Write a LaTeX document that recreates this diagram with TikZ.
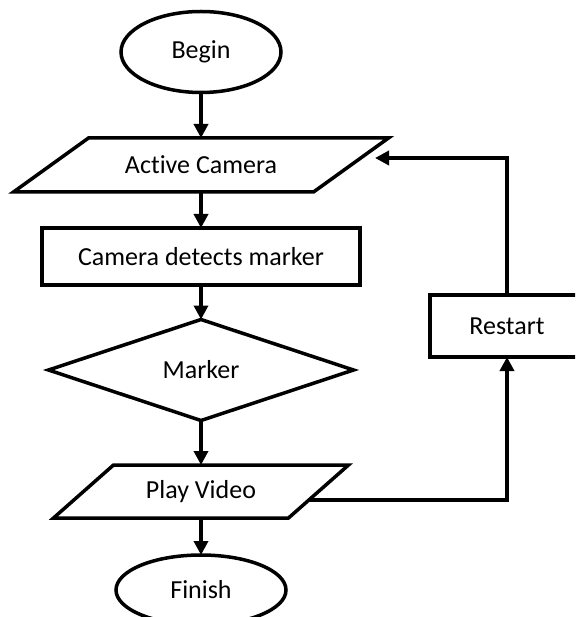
\documentclass[tikz,border=0pt]{standalone}
\usepackage{fontspec}
\setmainfont{Carlito}[Ligatures=NoCommon]
\usetikzlibrary{shapes.geometric,arrows.meta}
\tikzset{
  every node/.style={font=\fontsize{26}{30}\selectfont, line width=3.5pt, outer sep=0pt, inner sep=0pt},
  term/.style={ellipse, draw},
  iotext/.style={rectangle},
  iobox/.style={line width=3.5pt, line join=miter},
  procbox/.style={rectangle, draw},
  decbox/.style={diamond, draw},
  flow/.style={line width=3.5pt, -{Triangle[length=14pt,width=14pt]}}
}
\begin{document}
\begin{tikzpicture}[x=1pt,y=-1pt]
\clip (0,0) rectangle (575,617);
\node[term, minimum width=160pt, minimum height=81pt] (begin) at (201,52) {Begin};
\node[iotext, minimum width=300pt, minimum height=54pt] (cam) at (201,165) {Active Camera};
\draw[iobox] ([xshift=37.5pt]cam.north west) -- ([xshift=37.5pt]cam.north east) -- ([xshift=-37.5pt]cam.south east) -- ([xshift=-37.5pt]cam.south west) -- cycle;
\node[procbox, minimum width=318pt, minimum height=57pt] (det) at (201,256.5) {Camera detects marker};
\node[decbox, minimum width=305pt, minimum height=101pt] (mark) at (201,370) {Marker};
\node[iotext, minimum width=235pt, minimum height=53pt] (play) at (201,491.5) {Play Video};
\draw[iobox] ([xshift=30pt]play.north west) -- ([xshift=30pt]play.north east) -- ([xshift=-30pt]play.south east) -- ([xshift=-30pt]play.south west) -- cycle;
\node[term, minimum width=170pt, minimum height=70pt] (fin) at (201,590) {Finish};
\node[procbox, minimum width=154pt, minimum height=62pt] (restart) at (507,326) {Restart};
\draw[flow] (begin.south) -- (cam.north);
\draw[flow] (cam.south) -- (det.north);
\draw[flow] (det.south) -- (mark.north);
\draw[flow] (mark.south) -- (play.north);
\draw[flow] (play.south) -- (fin.north);
\draw[flow] ([xshift=-9.6pt,yshift=-8.5pt]play.east) -| (restart.south);
\draw[flow] (restart.north) |- ([xshift=24pt,yshift=7pt]cam.east);
\end{tikzpicture}
\end{document}
